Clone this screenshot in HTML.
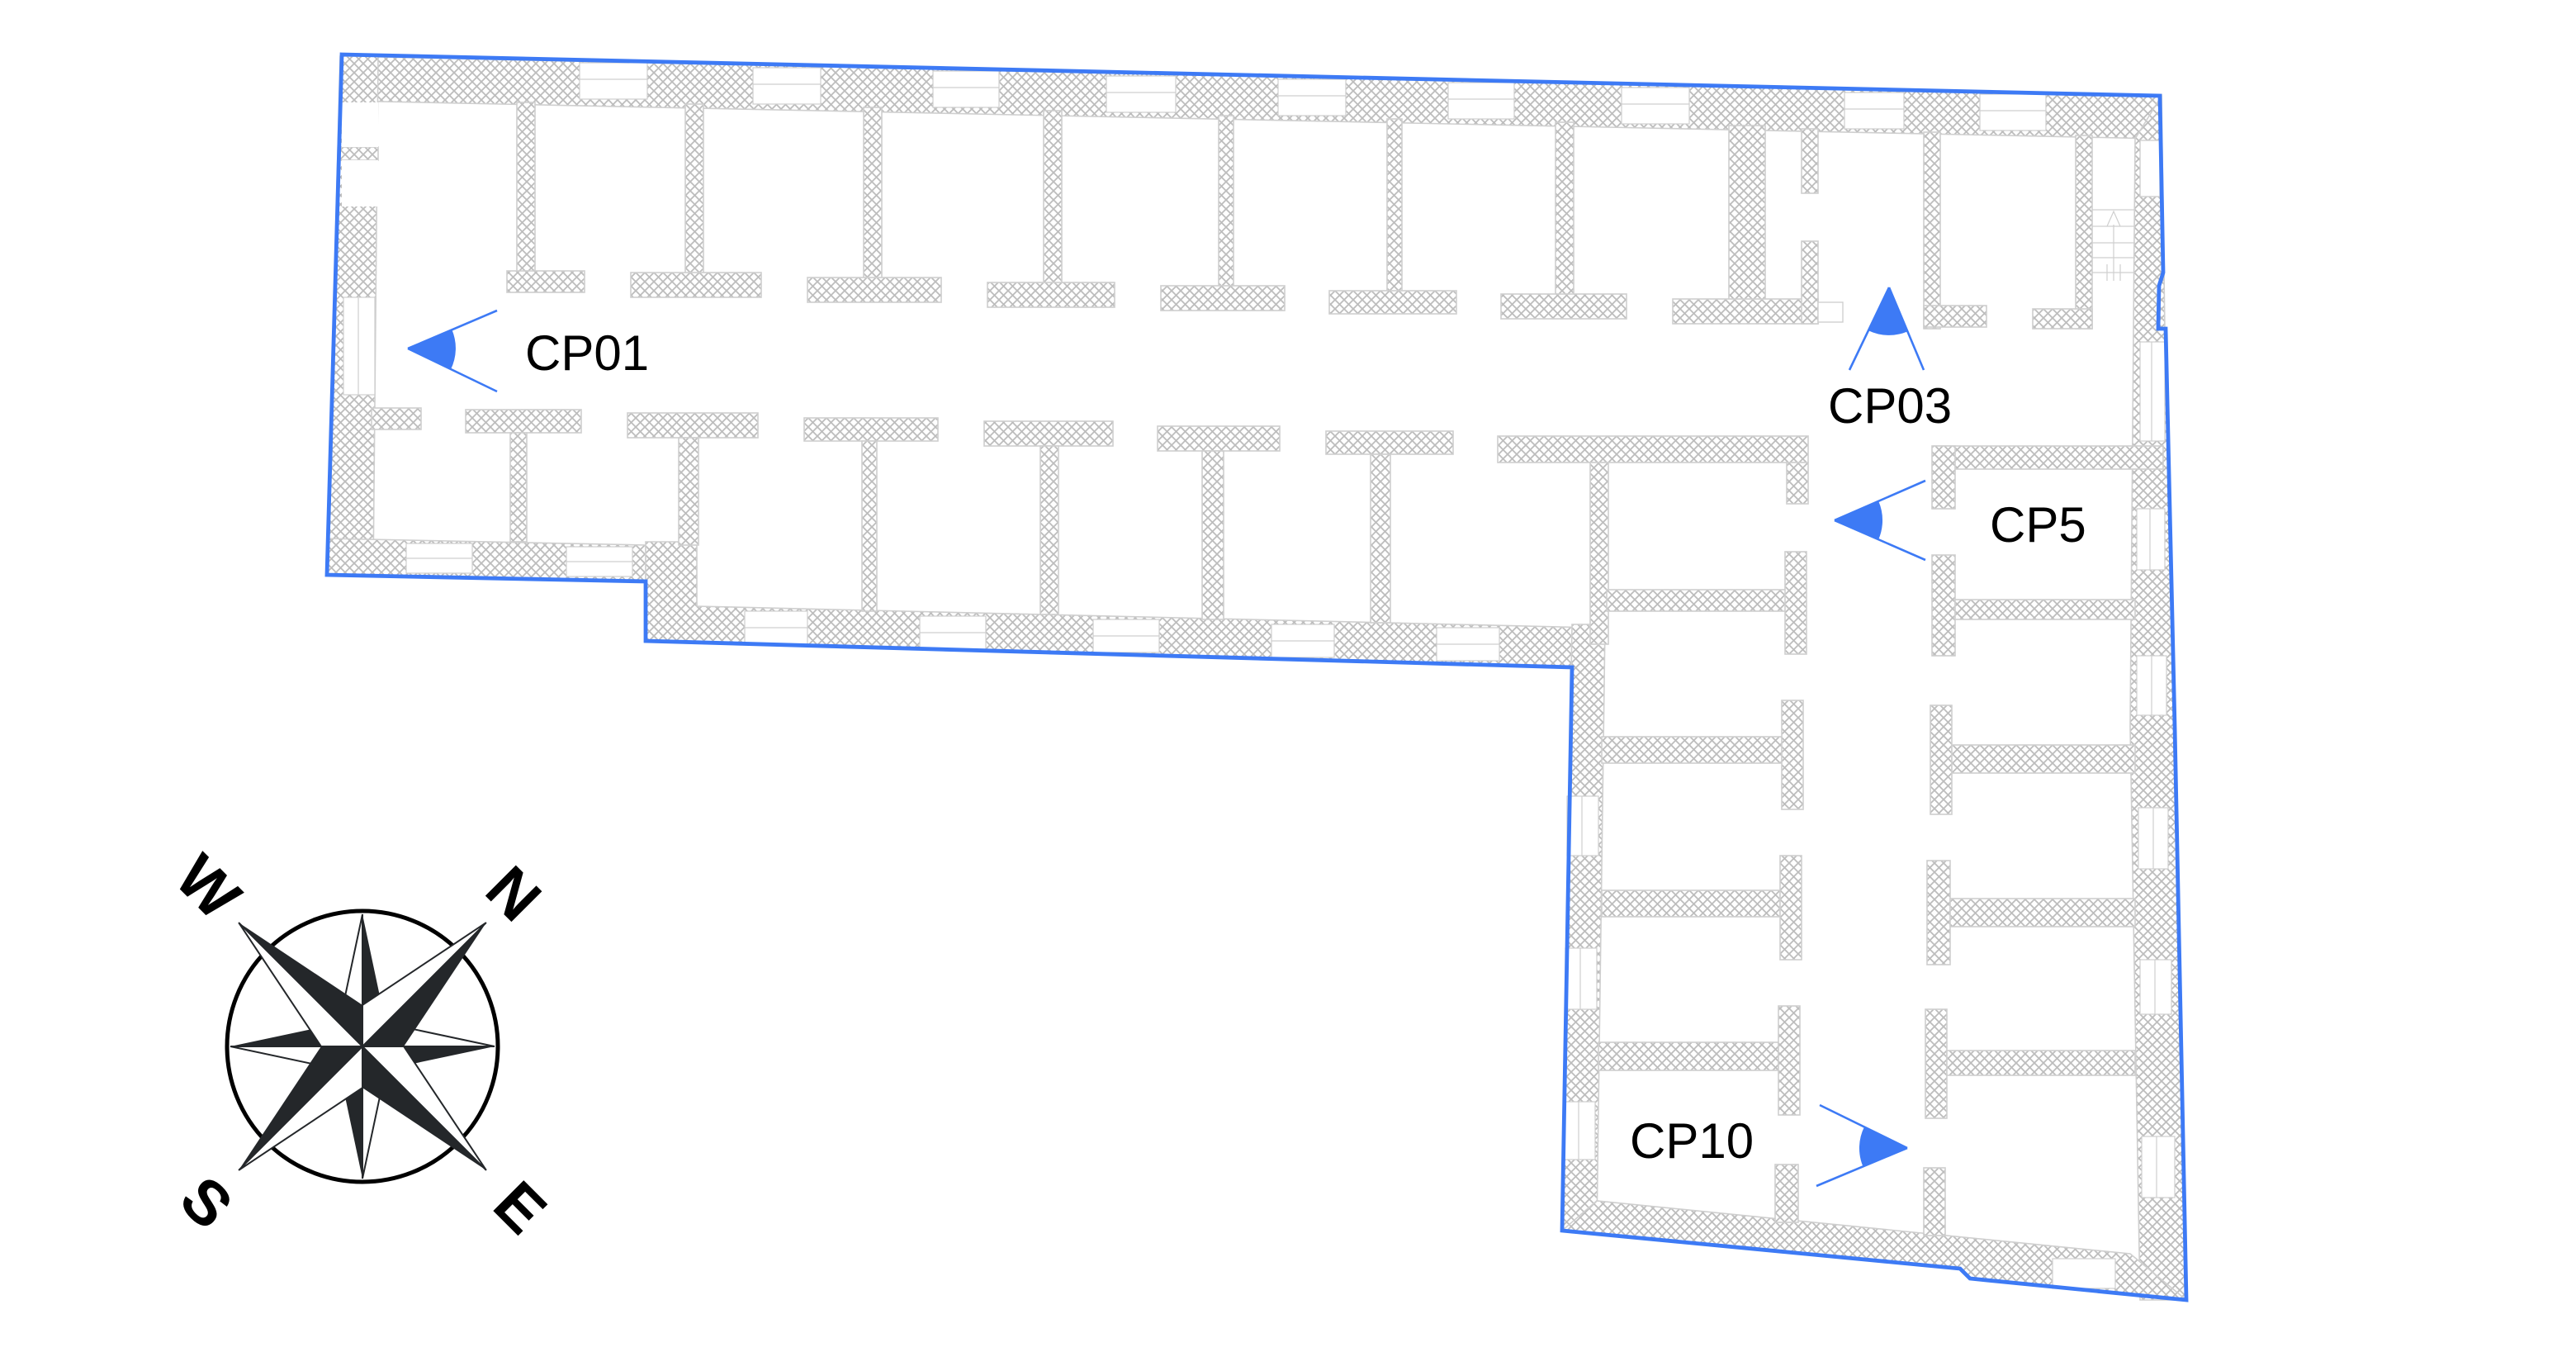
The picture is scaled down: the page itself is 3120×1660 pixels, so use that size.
<!DOCTYPE html>
<html><head><meta charset="utf-8"><style>
html,body{margin:0;padding:0;background:#fff;}
svg{display:block;}
text{font-family:"Liberation Sans",sans-serif;}
</style></head><body>
<svg width="3120" height="1660" viewBox="0 0 1560 830" xmlns="http://www.w3.org/2000/svg">
<defs>
<pattern id="h" patternUnits="userSpaceOnUse" width="5.5" height="5.5">
<rect width="5.5" height="5.5" fill="#fff"/>
<path d="M0,0 L5.5,5.5 M5.5,0 L0,5.5" stroke="#bdbdbd" stroke-width="0.9"/>
</pattern>
</defs>
<g fill="url(#h)" stroke="#cfcfcf" stroke-width="0.8">
<polygon points="207,34 1309,58 1309,84 207,61"/>
<polygon points="206,34 229,34 226,348 198,348"/>
<polygon points="198,326 391,330 391,352 198,348"/>
<polygon points="391,328 422,328 422,367 965,380 965,405 391,388"/>
<polygon points="952,378 972,378 967,745 946,745"/>
<polygon points="1293,84 1309,58 1311,200 1317,440 1324,787 1296,787 1290,440 1292,200"/>
<polygon points="946,745 967,727 1290,759 1324,787 1193,774 1187,768"/>
<rect x="313" y="62" width="11" height="104"/><rect x="307" y="164" width="47" height="13"/>
<rect x="415" y="63" width="11" height="104"/><rect x="382" y="165" width="79" height="15"/>
<rect x="523" y="65" width="11" height="105"/><rect x="489" y="168" width="81" height="15"/>
<rect x="632" y="67" width="11" height="106"/><rect x="598" y="171" width="77" height="15"/>
<rect x="738" y="70" width="9" height="105"/><rect x="703" y="173" width="75" height="15"/>
<rect x="840" y="72" width="9" height="106"/><rect x="805" y="176" width="77" height="14"/>
<rect x="942" y="74" width="11" height="106"/><rect x="909" y="178" width="76" height="15"/>
<rect x="1047" y="76" width="22" height="107"/><rect x="1013" y="181" width="88" height="15"/>
<rect x="1091" y="78" width="10" height="39"/><rect x="1091" y="146" width="10" height="50"/>
<rect x="1165" y="80" width="10" height="119"/><rect x="1165" y="185" width="38" height="13"/>
<rect x="1257" y="82" width="10" height="117"/><rect x="1231" y="187" width="36" height="12"/>
<rect x="205" y="89" width="24" height="8"/>
<rect x="225" y="247" width="30" height="13"/>
<rect x="282" y="248" width="70" height="14"/><rect x="309" y="262" width="10" height="66"/>
<rect x="380" y="250" width="79" height="15"/><rect x="411" y="265" width="12" height="65"/>
<rect x="487" y="253" width="81" height="14"/><rect x="522" y="267" width="9" height="103"/>
<rect x="596" y="255" width="78" height="15"/><rect x="630" y="270" width="11" height="102"/>
<rect x="701" y="258" width="74" height="15"/><rect x="728" y="273" width="13" height="102"/>
<rect x="803" y="261" width="77" height="14"/><rect x="830" y="275" width="12" height="102"/>
<rect x="907" y="264" width="188" height="16"/><rect x="963" y="280" width="11" height="110"/>
<rect x="1082" y="280" width="13" height="25"/>
<rect x="973" y="357" width="109" height="13"/><rect x="1081" y="334" width="13" height="62"/>
<rect x="970" y="446" width="110" height="16"/><rect x="1079" y="424" width="13" height="66"/>
<rect x="970" y="539" width="108" height="16"/><rect x="1078" y="518" width="13" height="63"/>
<rect x="968" y="631" width="109" height="17"/><rect x="1077" y="609" width="13" height="66"/>
<rect x="1075" y="705" width="14" height="35"/>
<rect x="1171" y="270" width="139" height="14"/><rect x="1170" y="270" width="14" height="38"/>
<rect x="1170" y="336" width="14" height="61"/><rect x="1184" y="363" width="109" height="12"/>
<rect x="1169" y="427" width="13" height="66"/><rect x="1182" y="451" width="111" height="17"/>
<rect x="1167" y="521" width="14" height="63"/><rect x="1181" y="544" width="112" height="17"/>
<rect x="1166" y="611" width="13" height="66"/><rect x="1179" y="636" width="114" height="15"/>
<rect x="1165" y="707" width="13" height="41"/>
</g>
<g fill="#fff" stroke="#cfcfcf" stroke-width="0.7">
<rect x="207" y="62" width="22" height="27" stroke="none"/>
<rect x="207" y="97" width="22" height="28" stroke="none"/>
<rect x="1101" y="183" width="15" height="12"/>
<rect x="1296" y="85" width="12" height="34"/>
</g>
<g fill="#fff" stroke="#cfcfcf" stroke-width="0.6">
<rect x="351" y="38" width="41" height="22"/><rect x="456" y="41" width="41" height="22"/>
<rect x="565" y="43" width="40" height="22"/><rect x="670" y="46" width="42" height="22"/>
<rect x="774" y="48" width="41" height="22"/><rect x="877" y="50" width="40" height="22"/>
<rect x="982" y="53" width="41" height="22"/><rect x="1117" y="56" width="36" height="22"/>
<rect x="1199" y="57" width="40" height="22"/>
<rect x="208" y="180" width="19" height="59"/>
<rect x="246" y="329" width="40" height="18"/><rect x="343" y="331" width="40" height="18"/>
<rect x="451" y="370" width="38" height="20"/><rect x="557" y="373" width="40" height="20"/>
<rect x="662" y="375" width="40" height="20"/><rect x="770" y="378" width="38" height="20"/>
<rect x="870" y="380" width="38" height="20"/>
<rect x="1296" y="207" width="15" height="60"/>
<rect x="1294" y="308" width="17" height="37"/><rect x="1294" y="397" width="18" height="36"/>
<rect x="1295" y="489" width="18" height="37"/><rect x="1296" y="581" width="19" height="33"/>
<rect x="1297" y="688" width="20" height="37"/>
<rect x="949" y="482" width="19" height="36"/><rect x="948" y="574" width="19" height="37"/>
<rect x="947" y="667" width="19" height="35"/>
<rect x="1243" y="762" width="38" height="18"/>
</g>
<g stroke="#cfcfcf" stroke-width="0.6" fill="none">
<path d="M351,48 H392 M456,51 H497 M565,53 H605 M670,56 H712 M774,58 H815 M877,60 H917 M982,63 H1023 M1117,66 H1153 M1199,67 H1239"/>
<path d="M217,180 V239 M1303,207 V267 M1302,308 V345 M1303,397 V433 M1304,489 V526 M1305,581 V614 M1306,688 V725 M958,482 V518 M957,574 V611 M956,667 V702"/>
<path d="M246,338 H286 M343,340 H383 M451,380 H489 M557,383 H597 M662,385 H702 M770,388 H808 M870,390 H908"/>
<path d="M1267,127 H1293 M1267,137 H1293 M1267,147 H1293 M1267,156 H1293 M1267,165 H1293 M1280,136 V160 M1276,137 L1280,128 L1284,137 M1276,160 V170 M1280,160 V170 M1284,160 V170"/>
</g>
<polygon points="207,33 1308,58 1310,165 1307.5,173 1307,199 1311.5,199 1317,440 1324,787 1193,774 1187,768 946,745 952,404 391,388 391,352 198,348" fill="none" stroke="#3d7af5" stroke-width="2.4" stroke-linejoin="miter"/>
<g stroke="#3d7af5" stroke-width="1.3" fill="#3d7af5">
<path d="M247,211 L301,188 M247,211 L301,237" fill="none"/>
<path d="M247,211 L273.7,199.6 A29,29 0 0 1 273,223.6 Z" stroke="none"/>
<path d="M1144,174 L1120,224 M1144,174 L1165,224" fill="none"/>
<path d="M1144,174 L1155.2,200.7 A29,29 0 0 1 1131.5,200.1 Z" stroke="none"/>
<path d="M1111,315 L1166,291 M1111,315 L1166,339" fill="none"/>
<path d="M1111,315 L1137.6,303.4 A29,29 0 0 1 1137.6,326.6 Z" stroke="none"/>
<path d="M1155,695 L1102,669 M1155,695 L1100,718" fill="none"/>
<path d="M1155,695 L1128.2,706.2 A29,29 0 0 1 1129,682.2 Z" stroke="none"/>
</g>
<g font-size="30" fill="#000">
<text x="318" y="224">CP01</text>
<text x="1107" y="256">CP03</text>
<text x="1205" y="328">CP5</text>
<text x="987" y="701">CP10</text>
</g>
<g transform="translate(219.5,633.5)">
<circle r="82" fill="#fff" stroke="#000" stroke-width="2.5"/>
<defs>
<g id="cp"><polygon points="0,0 0,-80 14,-14" fill="#24272a"/><polygon points="0,0 0,-80 -14,-14" fill="#fff" stroke="#24272a" stroke-width="1"/></g>
<g id="dp"><polygon points="0,0 0,-106 17.7,-17.7" fill="#24272a"/><polygon points="0,0 0,-106 -17.7,-17.7" fill="#fff" stroke="#24272a" stroke-width="1"/></g>
</defs>
<use href="#cp"/><use href="#cp" transform="rotate(90)"/><use href="#cp" transform="rotate(180)"/><use href="#cp" transform="rotate(270)"/>
<use href="#dp" transform="rotate(45)"/><use href="#dp" transform="rotate(135)"/><use href="#dp" transform="rotate(225)"/><use href="#dp" transform="rotate(315)"/>
</g>
<g font-size="38" font-weight="bold" fill="#000" text-anchor="middle">
<text transform="translate(126,537) rotate(45)" dy="13">W</text>
<text transform="translate(311,541) rotate(45)" dy="13">N</text>
<text transform="translate(125,728) rotate(45)" dy="13">S</text>
<text transform="translate(315,731) rotate(45)" dy="13">E</text>
</g>
</svg>
</body></html>
